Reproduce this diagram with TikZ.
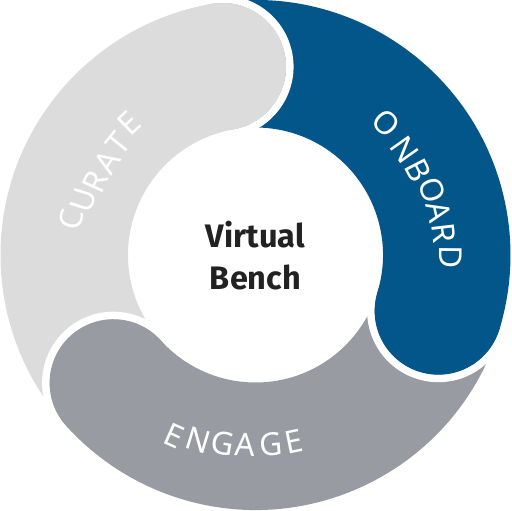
\documentclass[tikz,border=0pt]{standalone}
\usepackage{fontspec}
\setmainfont{Noto Sans}
\newfontfamily\hubfont{Fira Sans}

\definecolor{onboardblue}{HTML}{02568A}
\definecolor{curategray}{HTML}{DCDCDC}
\definecolor{engagegray}{HTML}{989BA2}
\definecolor{hubtext}{HTML}{222222}

% ring body: colour, tail angle, head angle
\newcommand\ringpart[3]{%
  \fill[#1] (#2:255) arc[start angle=#2, end angle=#3, radius=255]
    arc[start angle=#3, end angle=#3-180, radius=63.75]
    arc[start angle=#3, end angle=#2, radius=127.5] -- cycle;}
% rounded head with white gap: colour, head angle
\newcommand\ringhead[2]{%
  \draw[headgap] (#2:191.25) ++(#2:67.5) arc[start angle=#2, end angle=#2-180, radius=67.5];
  \fill[#1] (#2:191.25) ++({#2+8}:63.75) arc[start angle=#2+8, end angle=#2-188, radius=63.75] -- cycle;}

\begin{document}
\begin{tikzpicture}[x=0.02cm, y=0.02cm,
    headgap/.style={white, line width=4.3pt},
    ringletter/.style={text=white, inner sep=0pt, font=\fontsize{18}{22}\selectfont},
    hub/.style={align=center, text=hubtext, inner sep=0pt, font=\hubfont\bfseries\fontsize{18.5}{24}\selectfont}
]
    \useasboundingbox (-255.5,-256) rectangle (255.5,255);

    % Ring bodies
    \ringpart{onboardblue}{100}{-17}
    \ringpart{engagegray}{-17}{-138}
    \ringpart{curategray}{222}{100}

    % Heads on top
    \ringhead{onboardblue}{-17}
    \ringhead{engagegray}{-138}
    \ringhead{curategray}{100}

    % Labels along the ring
    \foreach \ch/\a/\r [count=\i] in {O/45.2/186, N/35.2/183, B/27.4/183, O/20.0/188, A/13.3/188, R/6.6/190, D/-0.5/195}
        \node[ringletter, rotate=\a-90] (onboard\i) at (\a:\r) {\ch};
    \foreach \ch/\a/\r [count=\i] in {C/169.0/188, U/162.5/181, R/155.5/176, A/148.0/175, T/141.0/177, E/133.8/183}
        \node[ringletter, rotate=\a-90] (curate\i) at (\a:\r) {\ch};
    \foreach \ch/\a/\r [count=\i] in {E/245.8/198, N/252.8/194, G/260.0/191, A/267.0/190, G/274.6/190, E/281.7/191}
        \node[ringletter, rotate=\a+90] (engage\i) at (\a:\r) {\ch};

    % Centre
    \node[hub] (bench) at (0,-1) {Virtual\\Bench};
\end{tikzpicture}
\end{document}
